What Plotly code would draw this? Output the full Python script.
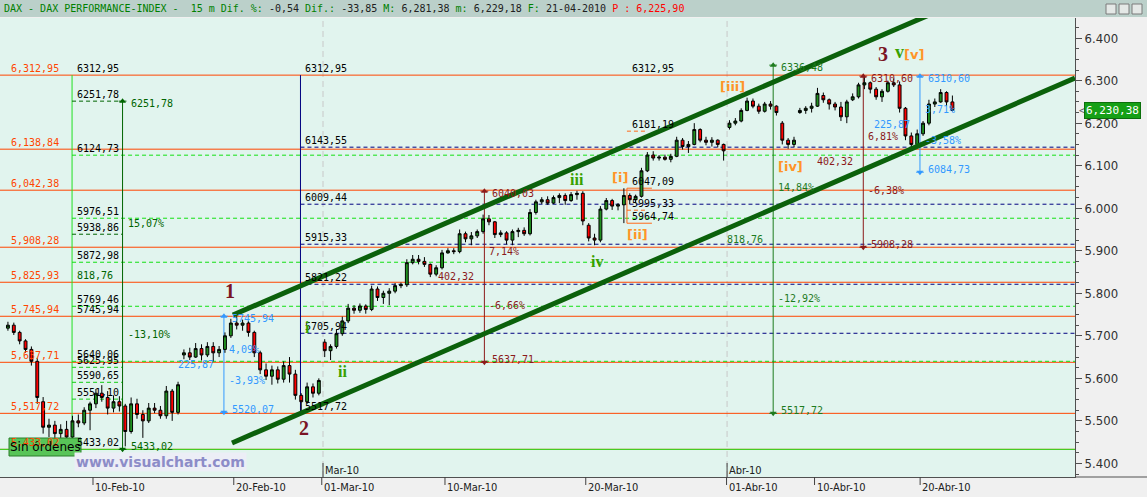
import plotly.graph_objects as go

# DAX 15m, compressed to 3 bars per session. x = sessions counted from 10-Feb-10
open_ = [5718, 5725, 5708, 5688, 5668, 5640, 5545, 5485, 5490, 5470,
         5480, 5462, 5500, 5495, 5525, 5540, 5565, 5555, 5530, 5545,
         5535, 5475, 5540, 5515, 5500, 5530, 5525, 5512, 5570, 5520,
         5655, 5660, 5650, 5670, 5655, 5675, 5660, 5668, 5700, 5730,
         5725, 5730, 5708, 5660, 5620, 5605, 5620, 5598, 5630, 5610,
         5560, 5545, 5580, 5565, 5685, 5665, 5675, 5705, 5735, 5765,
         5760, 5770, 5762, 5810, 5790, 5800, 5805, 5818, 5820, 5872,
         5880, 5875, 5868, 5845, 5860, 5895, 5900, 5898, 5940, 5928,
         5935, 5945, 5975, 5968, 5938, 5942, 5925, 5945, 5948, 5940,
         5990, 6015, 6020, 6012, 6025, 6030, 6018, 6032, 6035, 5960,
         5930, 5925, 5998, 6018, 6005, 6008, 6030, 6020, 6028, 6088,
         6125, 6118, 6120, 6115, 6122, 6160, 6145, 6150, 6185, 6160,
         6155, 6160, 6150, 6190, 6200, 6205, 6230, 6252, 6240, 6228,
         6245, 6240, 6200, 6160, 6150, 6225, 6230, 6235, 6240, 6265,
         6255, 6245, 6238, 6215, 6255, 6262, 6290, 6295, 6280, 6262,
         6275, 6295, 6290, 6235, 6170, 6150, 6175, 6200, 6245, 6250,
         6272, 6250]
high = [5733, 5731, 5712, 5692, 5675, 5648, 5556, 5505, 5500, 5492,
        5500, 5512, 5515, 5532, 5545, 5575, 5584, 5570, 5560, 5558,
        5540, 5555, 5552, 5525, 5542, 5542, 5535, 5582, 5575, 5592,
        5668, 5672, 5683, 5680, 5685, 5685, 5676, 5708, 5740, 5746,
        5738, 5735, 5712, 5665, 5635, 5630, 5628, 5640, 5650, 5620,
        5565, 5590, 5588, 5600, 5692, 5680, 5715, 5745, 5775, 5772,
        5776, 5774, 5818, 5816, 5806, 5812, 5824, 5825, 5880, 5890,
        5890, 5885, 5870, 5866, 5902, 5906, 5906, 5950, 5945, 5944,
        5950, 5985, 5984, 5970, 5948, 5946, 5950, 5954, 5955, 5998,
        6020, 6026, 6028, 6030, 6035, 6035, 6038, 6041, 6040, 5965,
        5940, 6005, 6024, 6022, 6012, 6047, 6035, 6032, 6095, 6132,
        6134, 6125, 6126, 6128, 6168, 6165, 6158, 6200, 6188, 6168,
        6167, 6162, 6152, 6207, 6212, 6235, 6260, 6258, 6246, 6250,
        6252, 6242, 6205, 6165, 6168, 6236, 6240, 6248, 6283, 6272,
        6258, 6250, 6250, 6255, 6270, 6295, 6311, 6298, 6285, 6280,
        6300, 6305, 6298, 6238, 6178, 6185, 6205, 6255, 6258, 6280,
        6275, 6265]
low = [5712, 5702, 5680, 5660, 5630, 5540, 5470, 5462, 5460, 5455,
       5448, 5458, 5485, 5490, 5478, 5530, 5545, 5515, 5520, 5522,
       5440, 5470, 5505, 5460, 5495, 5518, 5505, 5505, 5500, 5515,
       5645, 5643, 5648, 5642, 5650, 5640, 5650, 5660, 5695, 5715,
       5712, 5698, 5650, 5610, 5596, 5585, 5588, 5590, 5590, 5550,
       5518, 5540, 5555, 5560, 5650, 5643, 5670, 5700, 5730, 5752,
       5754, 5752, 5758, 5782, 5775, 5772, 5800, 5812, 5815, 5868,
       5868, 5862, 5838, 5840, 5856, 5893, 5892, 5894, 5920, 5913,
       5930, 5940, 5960, 5930, 5932, 5915, 5913, 5932, 5935, 5936,
       5985, 6010, 6008, 6010, 6012, 6008, 6015, 6020, 5960, 5922,
       5913, 5920, 5995, 5996, 5995, 5965, 6010, 6012, 6025, 6085,
       6112, 6112, 6112, 6108, 6120, 6138, 6130, 6148, 6155, 6148,
       6145, 6143, 6112, 6185, 6195, 6202, 6228, 6235, 6222, 6225,
       6232, 6218, 6150, 6140, 6144, 6222, 6222, 6225, 6238, 6248,
       6232, 6230, 6205, 6200, 6252, 6258, 6280, 6270, 6255, 6250,
       6272, 6285, 6225, 6160, 6139, 6145, 6170, 6195, 6238, 6248,
       6240, 6228]
close = [5725, 5708, 5688, 5668, 5640, 5555, 5485, 5490, 5470, 5480,
         5462, 5500, 5495, 5525, 5540, 5565, 5555, 5530, 5545, 5535,
         5475, 5540, 5515, 5500, 5530, 5525, 5512, 5570, 5520, 5585,
         5660, 5650, 5670, 5655, 5675, 5660, 5668, 5700, 5730, 5725,
         5730, 5708, 5660, 5620, 5605, 5620, 5598, 5630, 5610, 5560,
         5545, 5580, 5565, 5595, 5665, 5675, 5705, 5735, 5765, 5760,
         5770, 5762, 5810, 5790, 5800, 5805, 5818, 5820, 5872, 5880,
         5875, 5868, 5845, 5860, 5895, 5900, 5898, 5940, 5928, 5935,
         5945, 5975, 5968, 5938, 5942, 5925, 5945, 5948, 5940, 5990,
         6015, 6020, 6012, 6025, 6030, 6018, 6032, 6035, 5970, 5930,
         5925, 5998, 6018, 6005, 6008, 6030, 6020, 6028, 6088, 6125,
         6118, 6120, 6115, 6122, 6160, 6145, 6150, 6185, 6160, 6155,
         6160, 6150, 6135, 6200, 6205, 6230, 6252, 6240, 6228, 6245,
         6240, 6225, 6160, 6150, 6160, 6230, 6235, 6240, 6270, 6255,
         6245, 6238, 6215, 6250, 6262, 6290, 6295, 6280, 6262, 6275,
         6295, 6290, 6235, 6170, 6150, 6175, 6200, 6245, 6250, 6272,
         6250, 6230]
last_price = 6230.38

date_ticks = [0, 8, 13, 20, 28, 36, 41, 47]
date_labels = ["10-Feb-10", "20-Feb-10", "01-Mar-10", "10-Mar-10",
               "20-Mar-10", "01-Abr-10", "10-Abr-10", "20-Abr-10"]
month_ticks = [13.07, 36.03]
month_labels = ["Mar-10", "Abr-10"]
price_ticks = [5400, 5500, 5600, 5700, 5800, 5900, 6000, 6100, 6200, 6300, 6400]

# horizontal levels
orange_levels = [6312.95, 6138.84, 6042.38, 5908.28, 5825.93, 5745.94, 5637.71, 5517.72, 5433.02]
fib_levels = [6124.73, 5976.51, 5872.98, 5769.46, 5640.06]
fib_short = [5625.95, 5590.65, 5551.10]
fib_short_dark = [6251.78, 5938.86]
fib_labels = [6312.95, 6251.78, 6124.73, 5976.51, 5938.86, 5872.98, 5769.46,
              5745.94, 5640.06, 5625.95, 5590.65, 5551.10, 5433.02]
navy_levels = [6143.55, 6009.44, 5915.33, 5821.22, 5705.94]
navy_labels = [6312.95, 6143.55, 6009.44, 5915.33, 5821.22, 5705.94, 5517.72]
sub_labels = [6312.95, 6181.19, 6047.09, 5995.33, 5964.74]
sub_box = [6047.09, 5964.74]
sub_dash = [6181.19, 5995.33]
fib_low = 5433.02

# measuring arrows (session, top, bottom)
meas_x = [1.68, 7.44, 22.24, 38.65, 43.77, 46.99]
meas_top = [6251.78, 5745.94, 6040.03, 6336.48, 6310.60, 6310.60]
meas_bot = [5433.02, 5520.07, 5637.71, 5517.72, 5908.28, 6084.73]
meas_col = ["#006400", "#3399FF", "#8B1A1A", "#1E7B1E", "#8B1A1A", "#3399FF"]

# channel
chan_up_x = [7.95, 48.41]
chan_up_y = [5748.9, 6470.5]
chan_lo_x = [7.90, 55.80]
chan_lo_y = [5448.1, 6306.2]

fib_x = -1.19
navy_x = 11.79
sub_x = [30.34, 31.76]
X0, X1 = -5.284, 55.8
W, H = 1147, 497
PL, PR, PT, PB = 0, 1075, 18, 477


def PX(px):
    return (px - PL) / (PR - PL)


def PY(py):
    return (PB - py) / (PB - PT)


def eu(v):
    return f"{v:.2f}".replace(".", ",")


def eu_th(v):
    return f"{v:,.2f}".replace(".", ",")


def pct(v):
    return f"{v:.2f}%".replace(".", ",")


MONO = "DejaVu Sans Mono"
NARROW = "Liberation Sans Narrow, DejaVu Sans Condensed, Arial Narrow, sans-serif"
ORANGE = "#FF4500"
NAVY = "#000080"
LGREEN = "#22E022"

shapes = []
ann = []


def hline(y, x0, x1, color, dash="solid", width=1):
    shapes.append(dict(type="line", xref="x", yref="y", x0=x0, x1=x1, y0=y, y1=y,
                       line=dict(color=color, width=width, dash=dash), layer="below"))


def vline(x, y0, y1, color, dash="solid", width=1):
    shapes.append(dict(type="line", xref="x", yref="y", x0=x, x1=x, y0=y0, y1=y1,
                       line=dict(color=color, width=width, dash=dash), layer="below"))


def label(x, y, text, color="#000000", xanchor="left", yanchor="middle", xshift=0, yshift=0,
          size=10, family=MONO, xref="x", yref="y", **kw):
    ann.append(dict(x=x, y=y, xref=xref, yref=yref, text=text, showarrow=False,
                    xanchor=xanchor, yanchor=yanchor, xshift=xshift, yshift=yshift,
                    font=dict(family=family, size=size, color=color), **kw))


# month separators
for t in month_ticks:
    shapes.append(dict(type="line", xref="x", yref="paper", x0=t, x1=t, y0=0, y1=1,
                       line=dict(color="#C8C8C8", width=1, dash="6px,4px"), layer="below"))

# orange levels + left labels
for v in orange_levels:
    hline(v, X0, X1, ORANGE)
    label(PX(9), v, eu_th(v), ORANGE, xref="paper", yanchor="bottom", yshift=-1)

# fibonacci block on the left
hline(fib_low, X0, X1, LGREEN)
vline(fib_x, fib_low, 6312.95, LGREEN)
for v in fib_levels:
    hline(v, fib_x, X1, "#11E011", dash="4px,3px")
for v in fib_short:
    hline(v, fib_x, meas_x[0], "#11CC11", dash="4px,3px")
for v in fib_short_dark:
    hline(v, fib_x, meas_x[0], "#006400", dash="4px,3px")
for v in fib_labels:
    label(fib_x, v, eu(v), yanchor="bottom", xshift=3, yshift=-1)

# navy block
vline(navy_x, 5517.72, 6312.95, NAVY)
for v in navy_levels:
    hline(v, navy_x, X1, NAVY, dash="4px,3px")
for v in navy_labels:
    label(navy_x, v, eu(v), yanchor="bottom", xshift=3, yshift=-1)

# minor degree box
for v in sub_box:
    hline(v, sub_x[0], sub_x[1], "#FF6A1A")
vline(sub_x[0], sub_box[1], sub_box[0], "#FF6A1A")
for v in sub_dash:
    hline(v, sub_x[0], sub_x[1] - 0.25, "#FF6A1A", dash="4px,3px")
for v in sub_labels:
    label(sub_x[0], v, eu(v), yanchor="bottom", xshift=3, yshift=-1)

# measuring arrows
for mx, top, bot, col in zip(meas_x, meas_top, meas_bot, meas_col):
    diff = top - bot
    vline(mx, bot, top, col)
    hline(top, mx - 0.22, mx + 0.22, col)
    hline(bot, mx - 0.22, mx + 0.22, col)
    label(mx, top, eu(top), col, xshift=6, yshift=-2)
    label(mx, bot, eu(bot), col, xshift=6, yshift=3)
    label(mx, top - 0.35 * diff, pct(100 * diff / bot), col, xshift=3)
    label(mx, top - 0.67 * diff, "-" + pct(100 * diff / top), col, xshift=3)
    label(mx, top - 0.5 * diff, eu(diff), col, xanchor="right", xshift=-8)

# wave labels
waves = [
    ("1", 230, 291, "#7A1424", "Liberation Serif", 20),
    ("2", 304, 428, "#7A1424", "Liberation Serif", 20),
    ("3", 883, 54, "#7A1424", "Liberation Serif", 20),
    ("v", 899, 52, "#38A000", "Liberation Serif", 18),
    ("[v]", 914, 54, "#FF9428", "DejaVu Sans", 13),
    ("i", 307, 327, "#38A000", "Liberation Serif", 16),
    ("ii", 342, 371, "#38A000", "Liberation Serif", 16),
    ("iii", 577, 179, "#38A000", "Liberation Serif", 16),
    ("iv", 597, 261, "#38A000", "Liberation Serif", 16),
    ("[i]", 620, 177, "#FF9428", "DejaVu Sans", 13),
    ("[ii]", 637, 234, "#FF9428", "DejaVu Sans", 13),
    ("[iii]", 732, 86, "#FF9428", "DejaVu Sans", 13),
    ("[iv]", 790, 166, "#FF9428", "DejaVu Sans", 13),
]
for txt, x, y, col, fam, sz in waves:
    label(PX(x), PY(y), f"<b>{txt}</b>", col, xanchor="center", size=sz, family=fam,
          xref="paper", yref="paper")

# x axis labels
for t, lab in zip(date_ticks, date_labels):
    shapes.append(dict(type="line", xref="x", yref="paper", x0=t, x1=t, y0=0, y1=PY(485),
                       line=dict(color="#404040", width=1)))
    label(t, PY(487), lab, "#202020", xshift=0, size=11, family=NARROW, yref="paper")
for t, lab in zip(month_ticks, month_labels):
    shapes.append(dict(type="line", xref="x", yref="paper", x0=t, x1=t, y0=0, y1=PY(463),
                       line=dict(color="#404040", width=1)))
    label(t, PY(470), lab, "#202020", size=11, family=NARROW, yref="paper")

# header bar
shapes.append(dict(type="rect", xref="paper", yref="paper", x0=0, x1=W / PR, y0=PY(17), y1=PY(0),
                   fillcolor="#BBD0CA", line=dict(width=0), layer="above"))
for bx in [1106, 1119, 1132]:
    shapes.append(dict(type="rect", xref="paper", yref="paper", x0=PX(bx), x1=PX(bx + 10),
                       y0=PY(14), y1=PY(4), fillcolor="#E4E8E6", line=dict(color="#7A7A7A", width=1)))
shapes.append(dict(type="line", xref="paper", yref="paper", x0=1, x1=W / PR, y0=0, y1=0,
                   line=dict(color="#505050", width=1)))
g = "#008000"
header = (f"<span style='color:{g}'>DAX - DAX PERFORMANCE-INDEX -  15 m Dif. %: </span>-0,54"
          f"<span style='color:{g}'> Dif.: </span>-33,85<span style='color:{g}'> M: </span>6,281,38"
          f"<span style='color:{g}'> m: </span>6,229,18<span style='color:{g}'> F: </span>21-04-2010"
          f"<span style='color:#FF0000'> P : 6,225,90</span>")
label(PX(2), PY(8.5), header, "#202020", xref="paper", yref="paper")

# order button and watermark
shapes.append(dict(type="rect", xref="paper", yref="paper", x0=PX(9), x1=PX(81), y0=PY(456), y1=PY(438),
                   fillcolor="#58C458", line=dict(color="#2B7F2B", width=1), layer="above"))
label(PX(45), PY(447), "Sin órdenes", "#000000", xanchor="center", size=12, family="DejaVu Sans",
      xref="paper", yref="paper")
label(PX(160), PY(462), "<b>www.visualchart.com</b>", "#8C8CC8", xanchor="center", size=14,
      family="DejaVu Sans", xref="paper", yref="paper", bgcolor="#ECEEF6")

# last price tag
label(PX(1077), last_price, "<", "#606060", xref="paper", size=10)
label(PX(1084), last_price, eu_th(last_price), "#FFFFFF", xref="paper", size=11,
      bgcolor="#16A016", bordercolor="#0B700B", borderpad=1)

fig = go.Figure()
fig.add_trace(go.Candlestick(
    x=[-5 + (i + 0.5) / 3 for i in range(len(close))],
    open=open_, high=high, low=low, close=close,
    increasing=dict(line=dict(color="#000000", width=1), fillcolor="#1F8F1F"),
    decreasing=dict(line=dict(color="#000000", width=1), fillcolor="#FF0000"),
    whiskerwidth=0, hoverinfo="skip",
))
fig.add_trace(go.Scatter(x=chan_up_x, y=chan_up_y, mode="lines",
                         line=dict(color="#0B610B", width=5), hoverinfo="skip"))
fig.add_trace(go.Scatter(x=chan_lo_x, y=chan_lo_y, mode="lines",
                         line=dict(color="#0B610B", width=5), hoverinfo="skip"))
fig.add_trace(go.Scatter(x=meas_x, y=meas_top, mode="markers",
                         marker=dict(symbol="triangle-up", size=6, color=meas_col), hoverinfo="skip"))
fig.add_trace(go.Scatter(x=meas_x, y=meas_bot, mode="markers",
                         marker=dict(symbol="triangle-down", size=6, color=meas_col), hoverinfo="skip"))

fig.update_layout(
    width=W, height=H,
    margin=dict(l=PL, r=W - PR, t=PT, b=H - PB),
    paper_bgcolor="#F0F0F0", plot_bgcolor="#E1F4EE",
    showlegend=False,
    font=dict(family=MONO, size=10, color="#000000"),
    shapes=shapes, annotations=ann,
    xaxis=dict(range=[X0, X1], showgrid=False, zeroline=False, showticklabels=False,
               ticks="", rangeslider=dict(visible=False), showline=True, linecolor="#505050"),
    yaxis=dict(range=[5368.0, 6447.3], side="right", showgrid=False, zeroline=False,
               tickvals=price_ticks, ticktext=[f"{v:,}".replace(",", ".") for v in price_ticks],
               ticks="outside", ticklen=6, tickcolor="#505050", showline=True, linecolor="#505050",
               tickfont=dict(family=NARROW, size=13, color="#303030"),
               minor=dict(ticks="outside", ticklen=3, dtick=25, tick0=5400, tickcolor="#505050",
                          showgrid=False)),
)

fig.write_html("out.html", config={"displayModeBar": False},
               post_script="document.body.style.margin='0';")
